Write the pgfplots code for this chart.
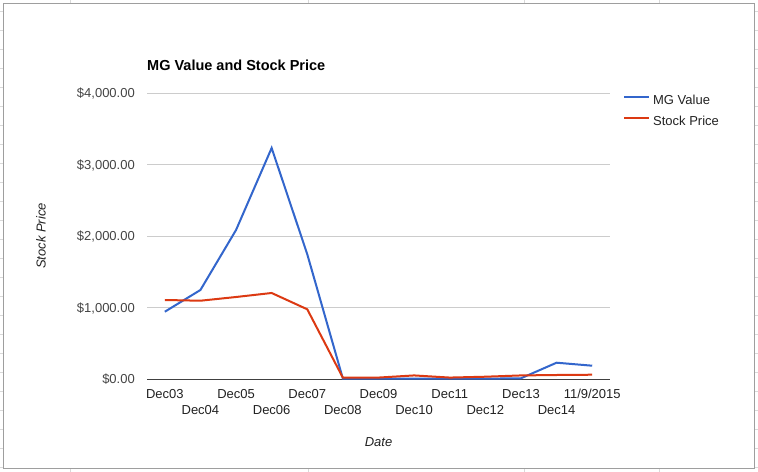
\documentclass[border=0pt]{standalone}
\usepackage{pgfplots}
\pgfplotsset{compat=1.18}
\usepackage{fontspec}
\setmainfont{Liberation Sans}
\definecolor{gblue}{HTML}{3366CC}
\definecolor{gred}{HTML}{DC3912}
\definecolor{ticktxt}{HTML}{444444}
\definecolor{labtxt}{HTML}{222222}
\definecolor{gridc}{HTML}{CCCCCC}
\definecolor{sheetgrid}{HTML}{D9D9D9}
\definecolor{boxc}{HTML}{9E9E9E}
\begin{document}
\begin{tikzpicture}
\path[use as bounding box, fill=white] (0,0) rectangle (758bp,-472bp);
% spreadsheet grid around the chart
\foreach \x in {70,308,524,659} {\draw[sheetgrid, line width=1bp] (\x bp,0) -- (\x bp,-472bp);}
\foreach \y in {11,30,49,68,87,106,125,144,163,182,201,220,239,258,277,296,315,334,353,372,391,410,429,448,467} {\draw[sheetgrid, line width=1bp] (0,-\y bp) -- (758bp,-\y bp);}
\draw[boxc, fill=white, line width=1bp] (3.5bp,-3.5bp) rectangle (754.5bp,-468bp);
\node[anchor=base west, inner sep=0, font=\fontsize{14.5bp}{17bp}\selectfont\bfseries] at (147bp,-70bp) {MG Value and Stock Price};
\begin{axis}[
  at={(147bp,-379bp)}, anchor=south west,
  scale only axis, width=463bp, height=286bp,
  xmin=-0.5, xmax=12.5, ymin=0, ymax=4000,
  clip=false,
  axis line style={draw=none},
  major tick length=0pt,
  ymajorgrids, grid style={gridc, line width=1bp},
  ytick={1000,2000,3000,4000},
  yticklabels={{\$1,000.00},{\$2,000.00},{\$3,000.00},{\$4,000.00}},
  extra y ticks={0}, extra y tick labels={{\$0.00}},
  extra y tick style={grid style={color=black!75, line width=1bp}},
  yticklabel style={font=\fontsize{13bp}{15bp}\selectfont, text=ticktxt, anchor=east, inner sep=0pt, xshift=-12bp, text height=9.5bp, text depth=0pt},
  xtick={0,2,4,6,8,10,12},
  xticklabels={Dec03,Dec05,Dec07,Dec09,Dec11,Dec13,11/9/2015},
  extra x ticks={1,3,5,7,9,11},
  extra x tick labels={Dec04,Dec06,Dec08,Dec10,Dec12,Dec14},
  extra x tick style={xticklabel style={yshift=-16bp}},
  xticklabel style={font=\fontsize{13bp}{15bp}\selectfont, text=labtxt, anchor=north, inner sep=0pt, yshift=-10.2bp, text height=9.5bp, text depth=0pt},
  xlabel={Date}, ylabel={Stock Price},
  xlabel style={at={(axis description cs:0.5,-0.2357)}, anchor=base, inner sep=0pt, font=\fontsize{13bp}{15bp}\selectfont\itshape, text=labtxt},
  ylabel style={at={(axis description cs:-0.2192,0.5)}, anchor=base, inner sep=0pt, font=\fontsize{13bp}{15bp}\selectfont\itshape, text=labtxt},
  legend style={at={(1.028,0.9965)}, anchor=north west, draw=none, fill=none, inner sep=0pt,
    font=\fontsize{13bp}{15bp}\selectfont, text=labtxt,
    nodes={inner sep=0pt, anchor=west, text height=10bp, text depth=3bp},
    row sep=8bp, column sep=3bp},
  legend cell align=left,
  legend image code/.code={\draw[#1, line width=2bp] (0bp,3.5bp) -- (25bp,3.5bp);},
]
\addplot[gblue, line width=2bp] coordinates {
(0,941) (1,1245) (2,2084) (3,3231) (4,1745) (5,5) (6,5) (7,5) (8,5) (9,5) (10,10) (11,228) (12,186)};
\addlegendentry{MG Value}
\addplot[gred, line width=2bp] coordinates {
(0,1105) (1,1095) (2,1147) (3,1203) (4,975) (5,18) (6,20) (7,50) (8,20) (9,32) (10,50) (11,56) (12,60)};
\addlegendentry{Stock Price}
\end{axis}
\end{tikzpicture}
\end{document}
